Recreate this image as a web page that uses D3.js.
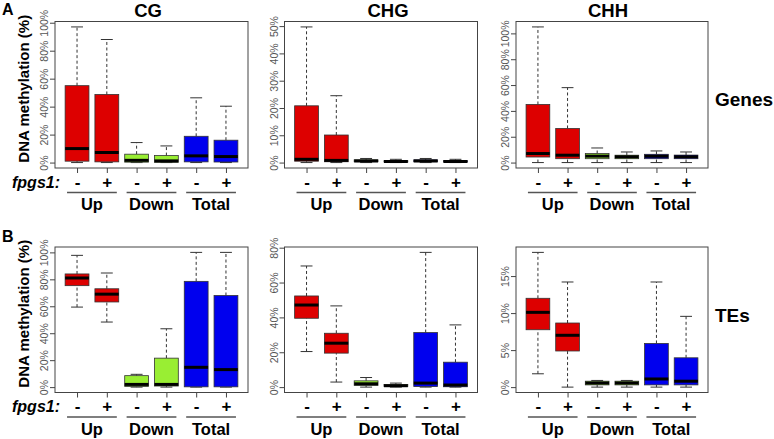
<!DOCTYPE html>
<html><head><meta charset="utf-8">
<script src="https://cdn.jsdelivr.net/npm/d3@7"></script>
<style>body{margin:0;background:#fff}svg{display:block}text{font-family:"Liberation Sans",Arial,sans-serif}</style>
</head><body>
<script>
// ---- data ----
const contexts = ["CG", "CHG", "CHH"];
const rowNames = ["Genes", "TEs"];
const groups = ["Up", "Down", "Total"];
const genotypes = ["-", "+", "-", "+", "-", "+"];
const groupColors = ["#dd0000", "#99ee33", "#0000ee"];
// each box: [lower whisker, Q1, median, Q3, upper whisker] (fraction)
const genesCG  = [[0,0.01,0.10,0.55,0.97],[0,0.005,0.072,0.487,0.88],[0,0.003,0.016,0.06,0.143],[0,0.002,0.012,0.05,0.119],[0,0.005,0.048,0.188,0.463],[0,0.004,0.043,0.16,0.403]];
const genesCHG = [[0,0.005,0.012,0.208,0.497],[0,0.003,0.008,0.101,0.245],[0,0.003,0.006,0.01,0.015],[0,0.002,0.004,0.007,0.012],[0,0.003,0.006,0.01,0.015],[0,0.002,0.004,0.007,0.012]];
const genesCHH = [[0,0.043,0.07,0.45,1.05],[0,0.03,0.057,0.264,0.58],[0,0.03,0.05,0.07,0.113],[0,0.03,0.045,0.057,0.082],[0,0.03,0.049,0.064,0.09],[0,0.03,0.045,0.058,0.082]];
const tesCG    = [[0.594,0.753,0.81,0.84,0.978],[0.483,0.632,0.69,0.73,0.847],[0,0.005,0.02,0.085,0.095],[0,0.008,0.02,0.215,0.433],[0,0.002,0.147,0.785,1.0],[0,0.002,0.13,0.68,1.0]];
const tesCHG   = [[0.204,0.395,0.471,0.523,0.695],[0.029,0.195,0.252,0.309,0.466],[0,0.01,0.019,0.036,0.055],[0,0.003,0.008,0.015,0.023],[0,0.003,0.023,0.313,0.773],[0,0.002,0.012,0.143,0.357]];
const tesCHH   = [[0.018,0.0775,0.101,0.12,0.182],[0,0.0488,0.07,0.0866,0.142],[0,0.003,0.0055,0.008,0.009],[0,0.003,0.0055,0.008,0.009],[0,0.003,0.011,0.059,0.142],[0,0.003,0.008,0.0396,0.0956]];
const ticksGenesCG  = [0,0.2,0.4,0.6,0.8,1.0];
const ticksGenesCHG = [0,0.1,0.2,0.3,0.4,0.5];
const ticksGenesCHH = [0,0.2,0.4,0.6,0.8,1.0];
const ticksTesCG    = [0,0.2,0.4,0.6,0.8,1.0];
const ticksTesCHG   = [0,0.2,0.4,0.6,0.8];
const ticksTesCHH   = [0,0.05,0.10,0.15];

const values = [[genesCG, genesCHG, genesCHH],[tesCG, tesCHG, tesCHH]];
const ticks = [[ticksGenesCG, ticksGenesCHG, ticksGenesCHH],[ticksTesCG, ticksTesCHG, ticksTesCHH]];

// ---- layout ----
const W = 774, H = 439;
const frameX = [[55,248],[284.5,477.5],[516,708]];
const frameY = [[21.5,168],[247,392.5]];
const titleX = [148, 388, 608];
const rowLetter = ["A","B"];
const letterY = [15, 241.5];
const rowLabelY = [106, 322];

const svg = d3.select("body").append("svg").attr("width", W).attr("height", H);
const fmt = d => Math.round(d*100) + "%";

contexts.forEach((c,p) => {
  svg.append("text").attr("x", titleX[p]).attr("y", 16.5).attr("text-anchor","middle")
    .attr("font-size", 18.5).attr("font-weight","bold").text(c);
});

rowNames.forEach((rn, r) => {
  const [fy0, fy1] = frameY[r];
  svg.append("text").attr("x", 2).attr("y", letterY[r]).attr("font-size", 16).attr("font-weight","bold").text(rowLetter[r]);
  svg.append("text").attr("x", 715).attr("y", rowLabelY[r]).attr("font-size", 19).attr("font-weight","bold").text(rn);
  svg.append("text").attr("transform", `translate(29,${(fy0+fy1)/2-6}) rotate(-90)`).attr("text-anchor","middle")
    .attr("font-size", 15).attr("font-weight","bold").text("DNA methylation (%)");
  svg.append("text").attr("x", 60).attr("y", fy1+19.5).attr("text-anchor","end")
    .attr("font-size", 16).attr("font-weight","bold").attr("font-style","italic").text("fpgs1:");

  contexts.forEach((c, p) => {
    const data = values[r][p];
    const [fx0, fx1] = frameX[p];
    const mx = d3.max(data, d => d[4]);
    const y = d3.scaleLinear().domain([-0.04*mx, 1.04*mx]).range([fy1, fy0]);
    const x = d3.scaleLinear().domain([0.26, 6.74]).range([fx0, fx1]);
    const g = svg.append("g");

    // y axis
    const ya = g.append("g").attr("transform", `translate(${fx0},0)`)
      .call(d3.axisLeft(y).tickValues(ticks[r][p]).tickSize(5).tickFormat(fmt));
    ya.select(".domain").remove();
    ya.selectAll(".tick line").attr("stroke","#444");
    ya.selectAll(".tick text").attr("transform","rotate(-90)").attr("x",0).attr("y",-7).attr("dy",0)
      .attr("text-anchor","middle").attr("font-size",10.5).attr("fill","#555")
      .attr("font-family","'Liberation Sans',Arial,sans-serif");

    // x axis
    const xa = g.append("g").attr("transform", `translate(0,${fy1})`)
      .call(d3.axisBottom(x).tickValues([1,2,3,4,5,6]).tickSize(5).tickFormat((d,i) => genotypes[i]));
    xa.select(".domain").remove();
    xa.selectAll(".tick line").attr("stroke","#444");
    xa.selectAll(".tick text").attr("y",19.5).attr("dy",0).attr("font-size",17).attr("font-weight","bold")
      .attr("fill","#000").attr("font-family","'Liberation Sans',Arial,sans-serif");

    // group lines and labels
    groups.forEach((gn, k) => {
      const a = x(2*k+1), b = x(2*k+2);
      g.append("line").attr("x1", a-10).attr("x2", b+10).attr("y1", fy1+24.5).attr("y2", fy1+24.5)
        .attr("stroke","#555").attr("stroke-width",1.6);
      g.append("text").attr("x",(a+b)/2).attr("y", fy1+42).attr("text-anchor","middle")
        .attr("font-size",16.5).attr("font-weight","bold").text(gn);
    });

    // boxes
    const bw = 0.8, cw = 0.4;
    data.forEach((d, i) => {
      const cx = i+1;
      const col = groupColors[Math.floor(i/2)];
      const [lo,q1,med,q3,hi] = d;
      g.append("line").attr("x1",x(cx)).attr("x2",x(cx)).attr("y1",y(q3)).attr("y2",y(hi))
        .attr("stroke","#333").attr("stroke-dasharray","3,2.5");
      g.append("line").attr("x1",x(cx)).attr("x2",x(cx)).attr("y1",y(lo)).attr("y2",y(q1))
        .attr("stroke","#333").attr("stroke-dasharray","3,2.5");
      [lo,hi].forEach(v => g.append("line").attr("x1",x(cx-cw/2)).attr("x2",x(cx+cw/2))
        .attr("y1",y(v)).attr("y2",y(v)).attr("stroke","#333"));
      g.append("rect").attr("x",x(cx-bw/2)).attr("width",x(cx+bw/2)-x(cx-bw/2))
        .attr("y",y(q3)).attr("height",Math.max(0.5,y(q1)-y(q3)))
        .attr("fill",col).attr("stroke","#333").attr("stroke-width",0.8);
      g.append("line").attr("x1",x(cx-bw/2)).attr("x2",x(cx+bw/2)).attr("y1",y(med)).attr("y2",y(med))
        .attr("stroke","#000").attr("stroke-width",3);
    });

    // frame
    g.append("rect").attr("x",fx0).attr("y",fy0).attr("width",fx1-fx0).attr("height",fy1-fy0)
      .attr("fill","none").attr("stroke","#444").attr("stroke-width",1);
  });
});
</script>
</body></html>
